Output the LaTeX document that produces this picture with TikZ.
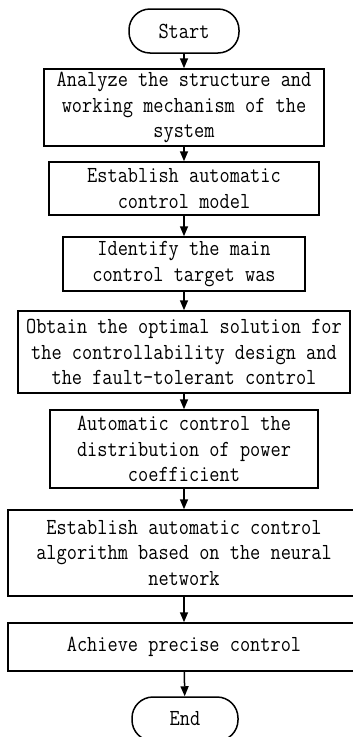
\documentclass[tikz,border=0pt]{standalone}
\usepackage{fontspec}
\setmonofont[FakeStretch=0.86]{Latin Modern Mono}
\usetikzlibrary{arrows.meta}
\tikzset{
  x=1pt,y=-1pt,
  box/.style={draw,line width=1.5pt,rectangle,inner sep=0pt,align=center,
    font=\ttfamily\fontsize{23}{25.5}\selectfont},
  term/.style={box,rounded corners=21pt,minimum width=110pt,minimum height=44pt},
  flow/.style={line width=1.5pt,-{Triangle[length=10pt,width=8pt]}},
}
\begin{document}
\begin{tikzpicture}
\useasboundingbox (0,0) rectangle (353,737);
\clip (0,0) rectangle (353,737);
\node[term] (start) at (184,31) {Start};
\node[box,minimum width=280pt,minimum height=77pt] (b1) at (184,107.5)
  {Analyze the structure and\\working mechanism of the\\system};
\node[box,minimum width=270pt,minimum height=53pt] (b2) at (184,188.5)
  {Establish automatic\\control model};
\node[box,minimum width=242pt,minimum height=54pt] (b3) at (184,264)
  {Identify the main\\control target was};
\node[box,minimum width=332pt,minimum height=82pt] (b4) at (184,352)
  {Obtain the optimal solution for\\the controllability design and\\the fault-tolerant control};
\node[box,minimum width=268pt,minimum height=78pt] (b5) at (184,449)
  {Automatic control the\\distribution of power\\coefficient};
\node[box,minimum width=352pt,minimum height=86pt] (b6) at (184,553)
  {Establish automatic control\\algorithm based on the neural\\network};
\node[box,minimum width=352pt,minimum height=48pt] (b7) at (184,647)
  {Achieve precise control};
\node[term,minimum width=106pt] (end) at (185,719) {End};
\draw[flow] (start) -- (b1);
\draw[flow] (b1) -- (b2);
\draw[flow] (b2) -- (b3);
\draw[flow] (b3) -- (b4);
\draw[flow] (b4) -- (b5);
\draw[flow] (b5) -- (b6);
\draw[flow] (b6) -- (b7);
\draw[flow] (b7) -- (end);
\end{tikzpicture}
\end{document}
